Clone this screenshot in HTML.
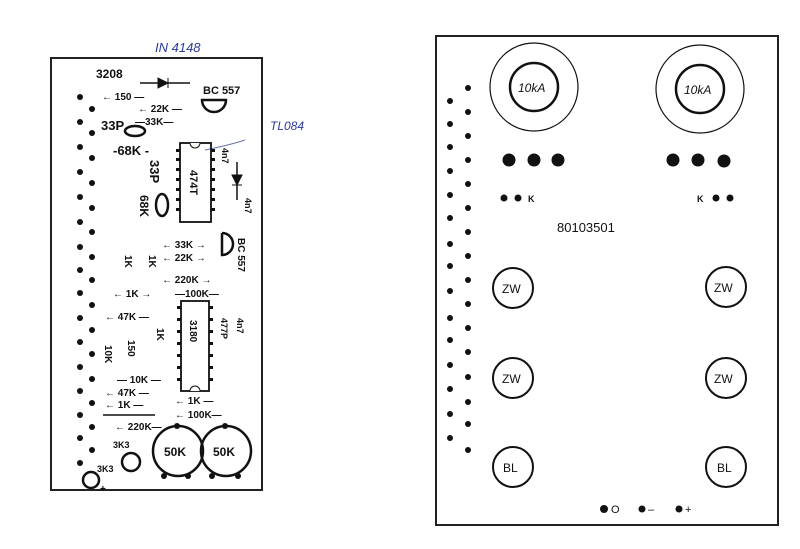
<!DOCTYPE html>
<html><head><meta charset="utf-8"><style>
html,body{margin:0;padding:0;background:#fff;}
svg{display:block;}
text{font-family:"Liberation Sans",sans-serif;fill:#111;}
.l text{font-weight:bold;}
</style></head><body>
<svg width="800" height="549" viewBox="0 0 800 549" xmlns="http://www.w3.org/2000/svg">
<rect width="800" height="549" fill="#fff"/>
<g class="l">
<rect x="51" y="58" width="211" height="432" fill="none" stroke="#222" stroke-width="2"/>
<g fill="#111">
<circle cx="80" cy="97" r="3"/><circle cx="80" cy="122" r="3"/><circle cx="80" cy="147" r="3"/><circle cx="80" cy="172" r="3"/><circle cx="80" cy="197" r="3"/><circle cx="80" cy="222" r="3"/><circle cx="80" cy="247" r="3"/><circle cx="80" cy="270" r="3"/><circle cx="80" cy="293" r="3"/><circle cx="80" cy="318" r="3"/><circle cx="80" cy="342" r="3"/><circle cx="80" cy="367" r="3"/><circle cx="80" cy="391" r="3"/><circle cx="80" cy="415" r="3"/><circle cx="80" cy="438" r="3"/><circle cx="80" cy="463" r="3"/>
<circle cx="92" cy="109" r="3"/><circle cx="92" cy="133" r="3"/><circle cx="92" cy="158" r="3"/><circle cx="92" cy="183" r="3"/><circle cx="92" cy="208" r="3"/><circle cx="92" cy="232" r="3"/><circle cx="92" cy="257" r="3"/><circle cx="92" cy="280" r="3"/><circle cx="92" cy="305" r="3"/><circle cx="92" cy="330" r="3"/><circle cx="92" cy="354" r="3"/><circle cx="92" cy="379" r="3"/><circle cx="92" cy="403" r="3"/><circle cx="92" cy="427" r="3"/><circle cx="92" cy="450" r="3"/>
</g>
<text x="155" y="52" font-size="13" style="fill:#2a3a9a;font-weight:normal" font-style="italic">IN 4148</text>
<text x="270" y="130" font-size="12" style="fill:#2a3a9a;font-weight:normal" font-style="italic">TL084</text>
<path d="M245 140 Q230 145 205 150" stroke="#6a74b0" fill="none"/>
<text x="96" y="78" font-size="12">3208</text>
<line x1="140" y1="83" x2="190" y2="83" stroke="#111" stroke-width="1.5"/>
<path d="M158 78 L158 88 L168 83 Z M168 78 L168 88" fill="#111" stroke="#111"/>
<text x="203" y="94" font-size="11">BC 557</text>
<path d="M202 100 H226 A12 12 0 0 1 202 100 Z" fill="none" stroke="#111" stroke-width="2.5"/>
<text x="102" y="100" font-size="10">← 150 —</text>
<text x="138" y="112" font-size="10">← 22K —</text>
<text x="135" y="125" font-size="10">—33K—</text>
<text x="101" y="130" font-size="13">33P</text>
<ellipse cx="135" cy="131" rx="10" ry="5" fill="none" stroke="#111" stroke-width="2.5"/>
<text x="113" y="155" font-size="13">-68K -</text>
<rect x="180" y="143" width="31" height="79" fill="none" stroke="#111" stroke-width="1.8"/>
<path d="M190 143 A5 5 0 0 0 200 143" fill="#fff" stroke="#111"/>
<text x="190" y="170" font-size="11" transform="rotate(90 190 170)">474T</text>
<g fill="#111"><rect x="176" y="149" width="4" height="3"/><rect x="176" y="158" width="4" height="3"/><rect x="176" y="168" width="4" height="3"/><rect x="176" y="178" width="4" height="3"/><rect x="176" y="188" width="4" height="3"/><rect x="176" y="198" width="4" height="3"/><rect x="176" y="208" width="4" height="3"/>
<rect x="211" y="149" width="4" height="3"/><rect x="211" y="158" width="4" height="3"/><rect x="211" y="168" width="4" height="3"/><rect x="211" y="178" width="4" height="3"/><rect x="211" y="188" width="4" height="3"/><rect x="211" y="198" width="4" height="3"/><rect x="211" y="208" width="4" height="3"/></g>
<text x="150" y="160" font-size="13" transform="rotate(90 150 160)">33P</text>
<text x="140" y="195" font-size="12" transform="rotate(90 140 195)">68K</text>
<ellipse cx="162" cy="205" rx="6" ry="11" fill="none" stroke="#111" stroke-width="2.5"/>
<text x="222" y="148" font-size="9" transform="rotate(90 222 148)">4n7</text>
<line x1="237" y1="162" x2="237" y2="200" stroke="#111" stroke-width="1.5"/>
<path d="M232 175 H242 L237 185 Z M232 185 H242" fill="#111" stroke="#111"/>
<text x="245" y="198" font-size="9" transform="rotate(90 245 198)">4n7</text>
<path d="M222 233 V255 A11 11 0 0 0 222 233" fill="none" stroke="#111" stroke-width="2.5"/>
<text x="238" y="238" font-size="10" transform="rotate(90 238 238)">BC 557</text>
<text x="162" y="248" font-size="10">← 33K →</text>
<text x="162" y="261" font-size="10">← 22K →</text>
<text x="162" y="283" font-size="10">← 220K →</text>
<text x="113" y="297" font-size="10">← 1K →</text>
<text x="175" y="297" font-size="10">—100K—</text>
<text x="125" y="255" font-size="10" transform="rotate(90 125 255)">1K</text>
<text x="149" y="255" font-size="10" transform="rotate(90 149 255)">1K</text>
<rect x="181" y="301" width="28" height="90" fill="none" stroke="#111" stroke-width="1.8"/>
<path d="M190 391 A5 5 0 0 1 200 391" fill="#fff" stroke="#111"/>
<text x="190" y="320" font-size="10" transform="rotate(90 190 320)">3180</text>
<g fill="#111"><rect x="177" y="306" width="4" height="3"/><rect x="177" y="318" width="4" height="3"/><rect x="177" y="330" width="4" height="3"/><rect x="177" y="342" width="4" height="3"/><rect x="177" y="354" width="4" height="3"/><rect x="177" y="366" width="4" height="3"/><rect x="177" y="378" width="4" height="3"/>
<rect x="209" y="306" width="4" height="3"/><rect x="209" y="318" width="4" height="3"/><rect x="209" y="330" width="4" height="3"/><rect x="209" y="342" width="4" height="3"/><rect x="209" y="354" width="4" height="3"/><rect x="209" y="366" width="4" height="3"/><rect x="209" y="378" width="4" height="3"/></g>
<text x="221" y="318" font-size="9" transform="rotate(90 221 318)">477P</text>
<text x="237" y="318" font-size="9" transform="rotate(90 237 318)">4n7</text>
<text x="105" y="320" font-size="10">← 47K —</text>
<text x="105" y="345" font-size="10" transform="rotate(90 105 345)">10K</text>
<text x="128" y="340" font-size="10" transform="rotate(90 128 340)">150</text>
<text x="157" y="328" font-size="10" transform="rotate(90 157 328)">1K</text>
<text x="117" y="383" font-size="10">— 10K —</text>
<text x="105" y="396" font-size="10">← 47K —</text>
<text x="105" y="408" font-size="10">← 1K —</text>
<text x="175" y="404" font-size="10">← 1K —</text>
<line x1="103" y1="415" x2="155" y2="415" stroke="#111" stroke-width="1.5"/>
<text x="175" y="418" font-size="10">← 100K—</text>
<text x="115" y="430" font-size="10">← 220K—</text>
<circle cx="178" cy="451" r="25" fill="none" stroke="#111" stroke-width="2.5"/>
<circle cx="226" cy="451" r="25" fill="none" stroke="#111" stroke-width="2.5"/>
<g fill="#111"><circle cx="177" cy="426" r="3"/><circle cx="225" cy="426" r="3"/><circle cx="164" cy="476" r="3"/><circle cx="188" cy="476" r="3"/><circle cx="212" cy="476" r="3"/><circle cx="238" cy="476" r="3"/></g>
<text x="164" y="456" font-size="12">50K</text>
<text x="213" y="456" font-size="12">50K</text>
<text x="113" y="448" font-size="9">3K3</text>
<circle cx="131" cy="462" r="9" fill="none" stroke="#111" stroke-width="2.5"/>
<text x="97" y="472" font-size="9">3K3</text>
<circle cx="91" cy="480" r="8" fill="none" stroke="#111" stroke-width="2.5"/>
<text x="100" y="492" font-size="10">+</text>
</g>
<!-- RIGHT BOARD -->
<rect x="436" y="36" width="342" height="489" fill="none" stroke="#222" stroke-width="2"/>
<g fill="#111">
<circle cx="468" cy="88" r="3"/><circle cx="468" cy="112" r="3"/><circle cx="468" cy="136" r="3"/><circle cx="468" cy="160" r="3"/><circle cx="468" cy="184" r="3"/><circle cx="468" cy="208" r="3"/><circle cx="468" cy="232" r="3"/><circle cx="468" cy="256" r="3"/><circle cx="468" cy="280" r="3"/><circle cx="468" cy="304" r="3"/><circle cx="468" cy="328" r="3"/><circle cx="468" cy="352" r="3"/><circle cx="468" cy="377" r="3"/><circle cx="468" cy="402" r="3"/><circle cx="468" cy="424" r="3"/><circle cx="468" cy="450" r="3"/>
<circle cx="450" cy="101" r="3"/><circle cx="450" cy="124" r="3"/><circle cx="450" cy="147" r="3"/><circle cx="450" cy="171" r="3"/><circle cx="450" cy="195" r="3"/><circle cx="450" cy="218" r="3"/><circle cx="450" cy="244" r="3"/><circle cx="450" cy="266" r="3"/><circle cx="450" cy="291" r="3"/><circle cx="450" cy="318" r="3"/><circle cx="450" cy="340" r="3"/><circle cx="450" cy="365" r="3"/><circle cx="450" cy="389" r="3"/><circle cx="450" cy="414" r="3"/><circle cx="450" cy="438" r="3"/>
<circle cx="509" cy="160" r="6.5"/><circle cx="534" cy="160" r="6.5"/><circle cx="558" cy="160" r="6.5"/>
<circle cx="673" cy="160" r="6.5"/><circle cx="698" cy="160" r="6.5"/><circle cx="724" cy="161" r="6.5"/>
<circle cx="504" cy="198" r="3.5"/><circle cx="518" cy="198" r="3.5"/>
<circle cx="716" cy="198" r="3.5"/><circle cx="730" cy="198" r="3.5"/>
<circle cx="604" cy="509" r="4"/><circle cx="642" cy="509" r="3.5"/><circle cx="679" cy="509" r="3.5"/>
</g>
<text x="528" y="202" font-size="9" font-weight="bold">K</text>
<text x="697" y="202" font-size="9" font-weight="bold">K</text>
<text x="557" y="232" font-size="13">80103501</text>
<circle cx="534" cy="87" r="44" fill="none" stroke="#111" stroke-width="1.2"/>
<circle cx="534" cy="87" r="24" fill="none" stroke="#111" stroke-width="2.5"/>
<circle cx="700" cy="89" r="44" fill="none" stroke="#111" stroke-width="1.2"/>
<circle cx="700" cy="89" r="24" fill="none" stroke="#111" stroke-width="2.5"/>
<text x="518" y="92" font-size="12" font-style="italic">10kA</text>
<text x="684" y="94" font-size="12" font-style="italic">10kA</text>
<g fill="none" stroke="#111" stroke-width="2">
<circle cx="513" cy="288" r="20"/><circle cx="513" cy="378" r="20"/><circle cx="513" cy="467" r="20"/>
<circle cx="726" cy="287" r="20"/><circle cx="726" cy="378" r="20"/><circle cx="726" cy="467" r="20"/>
</g>
<text x="502" y="293" font-size="12">ZW</text><text x="502" y="383" font-size="12">ZW</text><text x="503" y="472" font-size="12">BL</text>
<text x="714" y="292" font-size="12">ZW</text><text x="714" y="383" font-size="12">ZW</text><text x="717" y="472" font-size="12">BL</text>
<text x="611" y="513" font-size="11">O</text>
<text x="648" y="513" font-size="11">–</text>
<text x="685" y="513" font-size="11">+</text>
</svg>
</body></html>
